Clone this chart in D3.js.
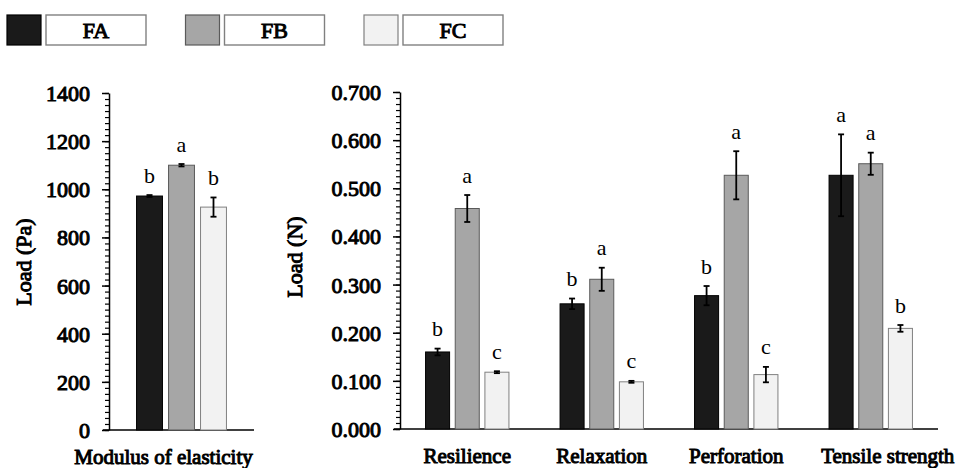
<!DOCTYPE html>
<html><head><meta charset="utf-8">
<script src="https://cdn.jsdelivr.net/npm/d3@7/dist/d3.min.js"></script>
<style>
html,body{margin:0;padding:0;background:#fff;}
svg{display:block;}
svg text{font-family:"Liberation Serif","Times New Roman",Times,serif;font-weight:normal;}
svg text.bold{stroke:#000;stroke-width:1px;paint-order:fill;}
</style></head>
<body><svg id="c" width="962" height="468"></svg>
<script>
// ---- data ----
const series = ["FA", "FB", "FC"];
const leftCategories = ["Modulus of elasticity"];
const rightCategories = ["Resilience", "Relaxation", "Perforation", "Tensile strength"];

// Modulus of elasticity (Pa), order FA, FB, FC
const modulusMean = [972, 1100, 926];
const modulusErr = [4, 5, 40];
const modulusLetters = ["b", "a", "b"];

// Right panel (N), by category
const faMean = [0.160, 0.260, 0.277, 0.527];
const fbMean = [0.458, 0.311, 0.527, 0.551];
const fcMean = [0.118, 0.098, 0.113, 0.209];
const faErr = [0.007, 0.011, 0.020, 0.085];
const fbErr = [0.028, 0.024, 0.050, 0.023];
const fcErr = [0.002, 0.002, 0.016, 0.007];
const faLetters = ["b", "b", "b", "a"];
const fbLetters = ["a", "a", "a", "a"];
const fcLetters = ["c", "c", "c", "b"];

const leftTicks = [0, 200, 400, 600, 800, 1000, 1200, 1400];
const rightTicks = [0, 0.1, 0.2, 0.3, 0.4, 0.5, 0.6, 0.7];

// ---- styles ----
const fills = {FA: "#1a1a1a", FB: "#a6a6a6", FC: "#f2f2f2"};
const strokes = {FA: "#000000", FB: "#5a5a5a", FC: "#808080"};

const svg = d3.select("#c");

function panel(cfg) {
  const g = svg.append("g");
  const x0 = d3.scaleBand().domain(cfg.categories).range([cfg.x0, cfg.x1]).paddingInner(0).paddingOuter(0);
  const y = d3.scaleLinear().domain([0, cfg.ymax]).range([cfg.yBottom, cfg.yTop]);
  const groupW = x0.bandwidth() * 0.62;
  const x1 = d3.scaleBand().domain(series).range([-groupW / 2, groupW / 2]).paddingInner(0.19).paddingOuter(0);

  // minor ticks
  const minor = d3.range(0, cfg.ymax + cfg.minorStep / 2, cfg.minorStep);
  g.append("g").attr("transform", `translate(${cfg.x0},0)`)
    .call(d3.axisLeft(y).tickValues(minor).tickSize(4).tickFormat(""))
    .call(a => { a.select(".domain").remove(); a.selectAll("line").attr("stroke", "#000").attr("stroke-width", 1.2); });
  // major axis
  g.append("g").attr("transform", `translate(${cfg.x0},0)`)
    .call(d3.axisLeft(y).tickValues(cfg.ticks).tickSize(7).tickSizeOuter(0).tickPadding(12).tickFormat(cfg.fmt))
    .attr("font-family", null).attr("font-size", null)
    .call(a => {
      a.select(".domain").attr("stroke", "#000").attr("stroke-width", 1.5);
      a.selectAll("line").attr("stroke", "#000").attr("stroke-width", 1.5);
      a.selectAll("text").attr("class", "bold").style("font-size", "22px")
        .attr("fill", "#000").attr("dy", "0.34em");
    });

  // x axis
  g.append("g").attr("transform", `translate(0,${cfg.yBottom})`)
    .call(d3.axisBottom(x0).tickSize(0).tickSizeOuter(0).tickPadding(19))
    .attr("font-family", null).attr("font-size", null)
    .call(a => {
      a.select(".domain").attr("stroke", "#000").attr("stroke-width", 1.5)
        .attr("d", `M${cfg.x0 - 6},0H${cfg.x1}`);
      a.selectAll("text").attr("class", "bold").style("font-size", "21px")
        .attr("fill", "#000")
        .attr("dx", d => cfg.labelShift[d] || 0);
    });

  const rows = [];
  cfg.categories.forEach((c, ci) => {
    series.forEach((s, si) => {
      rows.push({c, s, v: cfg.mean[si][ci], e: cfg.err[si][ci], l: cfg.letters[si][ci]});
    });
  });
  const cx = d => x0(d.c) + x0.bandwidth() / 2 + x1(d.s);
  g.selectAll("rect.bar").data(rows).join("rect").attr("class", "bar")
    .attr("x", d => cx(d)).attr("width", x1.bandwidth())
    .attr("y", d => y(d.v)).attr("height", d => y(0) - y(d.v))
    .attr("fill", d => fills[d.s]).attr("stroke", d => strokes[d.s]).attr("stroke-width", 1);
  // error bars
  const eb = g.selectAll("g.eb").data(rows).join("g").attr("class", "eb")
    .attr("stroke", "#000").attr("stroke-width", 1.8);
  const mid = d => cx(d) + x1.bandwidth() / 2;
  eb.append("line").attr("x1", mid).attr("x2", mid)
    .attr("y1", d => y(d.v + d.e)).attr("y2", d => y(d.v - d.e));
  eb.append("line").attr("x1", d => mid(d) - 3).attr("x2", d => mid(d) + 3)
    .attr("y1", d => y(d.v + d.e)).attr("y2", d => y(d.v + d.e));
  eb.append("line").attr("x1", d => mid(d) - 3).attr("x2", d => mid(d) + 3)
    .attr("y1", d => y(d.v - d.e)).attr("y2", d => y(d.v - d.e));
  // letters
  g.selectAll("text.let").data(rows).join("text").attr("class", "let")
    .attr("x", mid).attr("y", d => y(d.v + d.e) - 12.5)
    .attr("text-anchor", "middle").style("font-size", "22px").attr("fill", "#000").text(d => d.l);

  // y title
  g.append("text").attr("class", "bold").attr("transform", `translate(${cfg.titleX},${cfg.titleY}) rotate(-90)`)
    .attr("text-anchor", "middle").style("font-size", "22px").attr("fill", "#000")
    .attr("dy", "0.35em").text(cfg.title);
}

panel({
  categories: leftCategories, x0: 109, x1: 254, yBottom: 430, yTop: 93, ymax: 1400,
  ticks: leftTicks, minorStep: 25, fmt: d3.format("d"),
  mean: [[modulusMean[0]], [modulusMean[1]], [modulusMean[2]]],
  err: [[modulusErr[0]], [modulusErr[1]], [modulusErr[2]]],
  letters: [[modulusLetters[0]], [modulusLetters[1]], [modulusLetters[2]]],
  labelShift: {"Modulus of elasticity": -18},
  title: "Load (Pa)", titleX: 23, titleY: 262
});

panel({
  categories: rightCategories, x0: 400, x1: 938, yBottom: 429, yTop: 92, ymax: 0.7,
  ticks: rightTicks, minorStep: 0.0125, fmt: d3.format(".3f"),
  mean: [faMean, fbMean, fcMean], err: [faErr, fbErr, fcErr], letters: [faLetters, fbLetters, fcLetters],
  labelShift: {"Tensile strength": 17},
  title: "Load (N)", titleX: 294, titleY: 257
});

// ---- legend ----
const legX = d3.scalePoint().domain(series).range([7, 364]);
const leg = svg.append("g").selectAll("g").data(series).join("g")
  .attr("transform", d => `translate(${legX(d)},15)`);
leg.append("rect").attr("width", 34).attr("height", 30)
  .attr("fill", d => fills[d]).attr("stroke", d => strokes[d]).attr("stroke-width", 1.2);
leg.append("rect").attr("x", 39).attr("width", 100).attr("height", 30)
  .attr("fill", "#fff").attr("stroke", "#808080").attr("stroke-width", 1.4);
leg.append("text").attr("class", "bold").attr("x", 89).attr("y", 23).attr("text-anchor", "middle")
  .style("font-size", "22px").attr("fill", "#000").text(d => d);
</script>
</body></html>
